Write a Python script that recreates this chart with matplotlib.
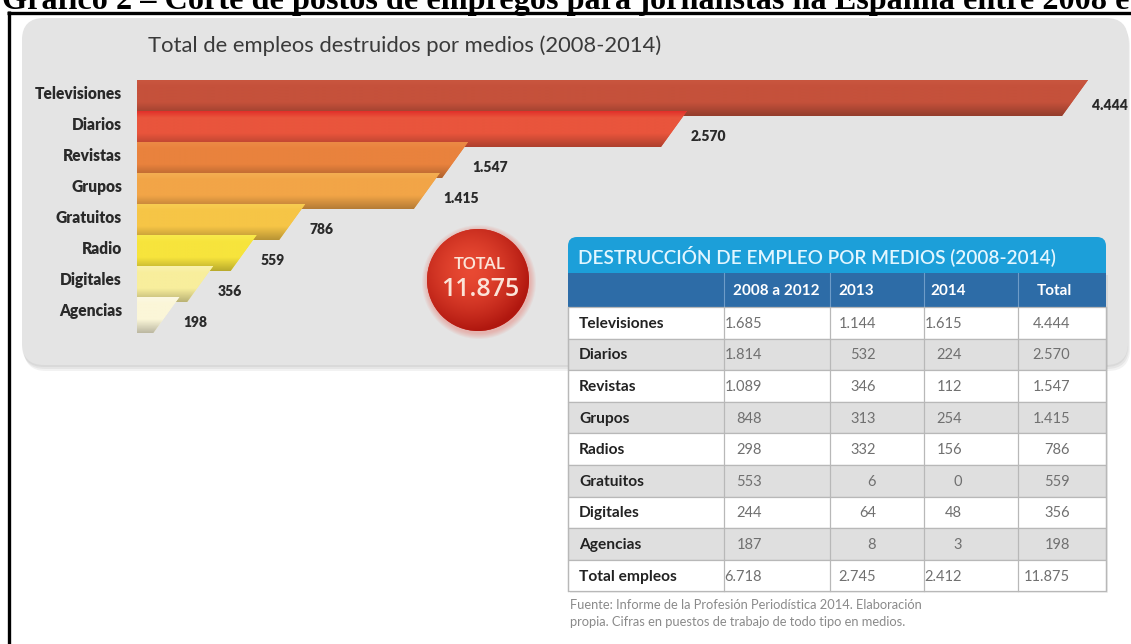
import matplotlib
matplotlib.use('Agg')
import matplotlib.pyplot as plt
import matplotlib.font_manager as fm
from matplotlib.patches import Polygon, FancyBboxPatch, Rectangle, Circle
from matplotlib.colors import to_rgb
import numpy as np

# ---------------- data ----------------
page_title = 'Gráfico 2 – Corte de postos de empregos para jornalistas na Espanha entre 2008 e 2014'
chart_title = 'Total de empleos destruidos por medios (2008-2014)'
categories = ['Televisiones', 'Diarios', 'Revistas', 'Grupos', 'Gratuitos', 'Radio', 'Digitales', 'Agencias']
totals = [4444, 2570, 1547, 1415, 786, 559, 356, 198]
value_labels = ['4.444', '2.570', '1.547', '1.415', '786', '559', '356', '198']
bar_colors = ['#C5513B', '#E9553C', '#E9823D', '#F2A547', '#F6C546', '#F7E43C', '#F8EE9C', '#FBF6D8']
bar_top_colors = ['#C9563F', '#E2302A', '#EC8A45', '#F4AE52', '#F8CD52', '#F9EA4C', '#FAF2AE', '#FCF8E2']
total_label = 'TOTAL'
total_value = '11.875'

table_title = 'DESTRUCCIÓN DE EMPLEO POR MEDIOS (2008-2014)'
table_columns = ['2008 a 2012', '2013', '2014', 'Total']
table_rows = ['Televisiones', 'Diarios', 'Revistas', 'Grupos', 'Radios', 'Gratuitos',
              'Digitales', 'Agencias', 'Total empleos']
col_2008_2012 = ['1.685', '1.814', '1.089', '848', '298', '553', '244', '187', '6.718']
col_2013 = ['1.144', '532', '346', '313', '332', '6', '64', '8', '2.745']
col_2014 = ['1.615', '224', '112', '254', '156', '0', '48', '3', '2.412']
col_total = ['4.444', '2.570', '1.547', '1.415', '786', '559', '356', '198', '11.875']
source_lines = ['Fuente: Informe de la Profesión Periodística 2014. Elaboración',
                'propia. Cifras en puestos de trabajo de todo tipo en medios.']


def pick(*names):
    for n in names:
        try:
            fm.findfont(fm.FontProperties(family=n), fallback_to_default=False)
            return n
        except Exception:
            pass
    return 'DejaVu Sans'


NARROW = pick('Liberation Sans Narrow', 'Lato', 'Open Sans')
SERIF = pick('Liberation Serif', 'DejaVu Serif')

W, H = 1131, 644
fig = plt.figure(figsize=(W / 100, H / 100), dpi=100)
fig.patch.set_facecolor('white')

bg = fig.add_axes([0, 0, 1, 1])
bg.set_xlim(0, W)
bg.set_ylim(H, 0)
bg.axis('off')

# page title (clipped at top, as in the source scan) and frame
bg.text(2, 9, page_title, fontfamily=SERIF, fontweight='bold', fontsize=23.2,
        va='baseline', ha='left', color='black')
bg.plot([8.5, 8.5], [11, H + 5], color='black', lw=2.4, solid_capstyle='butt')
bg.plot([7, W + 5], [12.5, 12.5], color='black', lw=2.4, solid_capstyle='butt')

# grey panel with soft shadow
for k, a in enumerate([0.05, 0.05, 0.05]):
    bg.add_patch(FancyBboxPatch((22 + k, 20 + 2 * k), 1106, 347, boxstyle='round,pad=0,rounding_size=22',
                                fc='black', ec='none', alpha=a, zorder=0))
bg.add_patch(FancyBboxPatch((22, 18), 1106, 347, boxstyle='round,pad=0,rounding_size=22',
                            fc='#E4E4E4', ec='none', zorder=1))
bg.text(148, 46, chart_title, fontfamily=NARROW, fontsize=15.8, color='#3A3A3A',
        va='center', ha='left', zorder=2)

# ---------------- bars ----------------
PX = (1088 - 137) / 4444.0      # pixels per unit
PITCH = 31.0
C0 = 98
ax_left, ax_right, ax_top, ax_bot = 137, W, 70, 345
ax = fig.add_axes([ax_left / W, 1 - ax_bot / H, (ax_right - ax_left) / W, (ax_bot - ax_top) / H])
ax.patch.set_alpha(0)
ax.axis('off')
xmax = (ax_right - ax_left) / PX
y_top = (ax_top - C0) / PITCH
y_bot = (ax_bot - C0) / PITCH
hgt = 36 / PITCH
slant = 26 / PX


def shade(c, f):
    r = np.array(to_rgb(c))
    if f >= 0:
        return r + (1 - r) * f
    return r * (1 + f)


for i, (v, col, tcol) in enumerate(zip(totals, bar_colors, bar_top_colors)):
    top, bot = i - hgt / 2, i + hgt / 2
    poly = Polygon([(0, top), (v, top), (v - slant, bot), (0, bot)], closed=True,
                   fc=col, ec='none', zorder=2 + 2 * i)
    ax.add_patch(poly)
    n = 60
    t = np.linspace(0, 1, n)
    grad = np.zeros((n, 1, 3))
    ctop = np.array(to_rgb(tcol))
    cb = np.array(to_rgb(col))
    for j, tt in enumerate(t):
        if tt < 0.18:
            w = tt / 0.18
            grad[j, 0] = ctop * (1 - w) + cb * w
        elif tt < 0.62:
            grad[j, 0] = cb
        else:
            grad[j, 0] = shade(col, -0.25 * (tt - 0.62) / 0.38)
    im = ax.imshow(grad, extent=(0, v, bot, top), aspect='auto', origin='upper',
                   zorder=3 + 2 * i, interpolation='bilinear')
    im.set_clip_path(poly)
    ax.text(-15 / PX, i - 0.12, categories[i], fontfamily=NARROW, fontweight='heavy',
            fontsize=11.2, color='#2A2A2A', ha='right', va='center', clip_on=False)
    ax.text(v + 4 / PX, bot - 0.33, value_labels[i], fontfamily=NARROW, fontweight='heavy',
            fontsize=10, color='#2A2A2A', ha='left', va='center', zorder=30, clip_on=False)

ax.set_xlim(0, xmax)
ax.set_ylim(y_bot, y_top)

# ---------------- total circle ----------------
cx, cy, r = 478, 280, 51
for k in range(6):
    bg.add_patch(Circle((cx + 1, cy + 2), r + 6 - k, fc='#E85040', ec='none', alpha=0.06, zorder=3))
circ = Circle((cx, cy), r, fc='#D22A1E', ec='none', zorder=4)
bg.add_patch(circ)
gx, gy = np.meshgrid(np.linspace(-1, 1, 200), np.linspace(-1, 1, 200))
d = np.sqrt((gx + 0.15) ** 2 + (gy + 0.2) ** 2)
d = np.clip(d / 1.2, 0, 1)
c_in, c_out = np.array(to_rgb('#E94A33')), np.array(to_rgb('#B0170F'))
img = c_in[None, None, :] * (1 - d[..., None] ** 1.6) + c_out[None, None, :] * (d[..., None] ** 1.6)
im = bg.imshow(img, extent=(cx - r, cx + r, cy + r, cy - r), origin='upper', zorder=5,
               interpolation='bilinear', aspect='auto')
im.set_clip_path(circ)
bg.text(cx + 2, cy - 15, total_label, fontfamily='Open Sans', fontweight='semibold', fontsize=12.5,
        color='#FBE4D8', ha='center', va='center', zorder=6)
bg.text(cx + 2, cy + 9, total_value, fontfamily='Open Sans', fontweight='semibold', fontsize=18,
        color='#FBE4D8', ha='center', va='center', zorder=6)

# ---------------- table ----------------
tl, tr = 568, 1106
col_edges = [568, 724, 830, 924, 1018, 1106]
title_top, head_top, head_bot = 237, 273, 307
row_h = 31.6
n_rows = len(table_rows)
tb = head_bot + n_rows * row_h

bg.add_patch(Rectangle((tl + 2, head_top + 2), tr - tl, tb - head_top, fc='black', alpha=0.06, ec='none', zorder=6))
bg.add_patch(FancyBboxPatch((tl, title_top), tr - tl, 50, boxstyle='round,pad=0,rounding_size=9',
                            fc='#1C9FD9', ec='none', zorder=7))
bg.add_patch(Rectangle((tl, title_top + 20), 12, 30, fc='#1C9FD9', ec='none', zorder=7))
bg.text(tl + 10, 256, table_title, fontfamily=NARROW, fontweight='semibold', fontsize=13.7,
        color='#E2F6FF', ha='left', va='center', zorder=9)
bg.add_patch(Rectangle((tl, head_top), tr - tl, head_bot - head_top, fc='#2D6CA7', ec='none', zorder=8))
for x in col_edges[1:-1]:
    bg.plot([x, x], [head_top, head_bot], color='#6E9CC8', lw=0.8, zorder=9)
head_x = [733, 838, 930, 1037]
for hx, lab in zip(head_x, table_columns):
    bg.text(hx, (head_top + head_bot) / 2 + 1, lab, fontfamily=NARROW, fontweight='bold',
            fontsize=11, color='white', ha='left', va='center', zorder=9)

num_x = [762, 876, 962, 1070]
cols = [col_2008_2012, col_2013, col_2014, col_total]
for k, name in enumerate(table_rows):
    y0 = head_bot + k * row_h
    fc = 'white' if k % 2 == 0 else '#DFDFDF'
    bg.add_patch(Rectangle((tl, y0), tr - tl, row_h, fc=fc, ec='#B8B8B8', lw=0.9, zorder=8))
    yc = y0 + row_h / 2 + 1
    bg.text(tl + 11, yc, name, fontfamily=NARROW, fontweight='bold', fontsize=11.2,
            color='#222222', ha='left', va='center', zorder=9)
    for j in range(4):
        bg.text(num_x[j], yc, cols[j][k], fontfamily=NARROW, fontsize=10.5,
                color='#707070', ha='right', va='center', zorder=9)
for x in col_edges:
    bg.plot([x, x], [head_bot, tb], color='#B8B8B8', lw=0.9, zorder=9)

for k, line in enumerate(source_lines):
    bg.text(570, 605 + k * 17, line, fontfamily=NARROW, fontsize=9.3, color='#8A8A8A',
            ha='left', va='center', zorder=9)

fig.savefig('out.png', dpi=100, facecolor='white')
